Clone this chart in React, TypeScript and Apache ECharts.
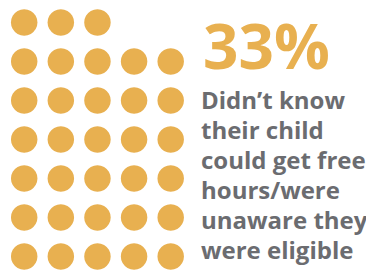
import React, { useEffect, useRef } from "react";
import * as echarts from "echarts";

const percentValue = 33;
const columns = 5;
const rows = 7;
const headline = "33%";
const descriptionLines = [
  "Didn\u2019t know",
  "their child",
  "could get free",
  "hours/were",
  "unaware they",
  "were eligible",
];

const ORANGE = "#e8b050";
const GRAY = "#6b6c70";

export default function App() {
  const ref = useRef<HTMLDivElement>(null);
  useEffect(() => {
    document.body.style.margin = "0";
    if (!ref.current) return;
    const chart = echarts.init(ref.current, undefined, { renderer: "svg" });
    const points: number[][] = [];
    const fullRows = Math.floor(percentValue / columns);
    const rem = percentValue % columns;
    for (let r = 0; r < fullRows; r++) {
      for (let c = 0; c < columns; c++) points.push([c, rows - 1 - r]);
    }
    for (let c = 0; c < rem; c++) points.push([c, rows - 1 - fullRows]);

    chart.setOption({
      animation: false,
      grid: { left: 24.2, top: 22.5, width: 146.5, height: 234 },
      xAxis: { type: "value", min: 0, max: columns - 1, show: false },
      yAxis: { type: "value", min: 0, max: rows - 1, inverse: true, show: false },
      series: [
        {
          type: "scatter",
          data: points,
          symbol: "circle",
          symbolSize: 26.5,
          itemStyle: { color: ORANGE, opacity: 1 },
          silent: true,
        },
      ],
      graphic: [
        {
          type: "text",
          x: 203,
          y: 45,
          style: {
            text: headline,
            font: "bold 62px 'Open Sans'",
            fill: ORANGE,
            textVerticalAlign: "middle",
            lineHeight: 62,
          },
        },
        {
          type: "text",
          x: 201,
          y: 84.75,
          style: {
            text: descriptionLines.join("\n"),
            font: "bold 24px 'Open Sans'",
            lineHeight: 30,
            fill: GRAY,
            textVerticalAlign: "top",
          },
        },
      ],
    });
    return () => chart.dispose();
  }, []);
  return <div ref={ref} style={{ width: 366, height: 272 }} />;
}
